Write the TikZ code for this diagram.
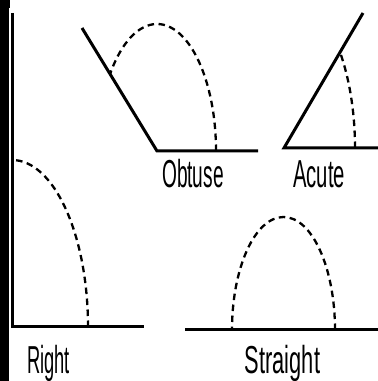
\documentclass[tikz,border=0pt]{standalone}
\usepackage{fontspec}
\setmainfont{Liberation Sans}
\newcommand{\lblsq}[2]{\scalebox{#1}[1]{#2}}
\begin{document}
\begin{tikzpicture}[x=1pt,y=1pt,
  armline/.style={line width=3pt},
  arcline/.style={line width=2.3pt,dash pattern=on 6.5pt off 4.5pt},
  lbl/.style={inner sep=0pt,anchor=base,font=\fontsize{39}{39}\selectfont}]
\useasboundingbox (0,0) rectangle (378,381);
\fill[white] (0,0) rectangle (378,381);
\fill[black] (0,0) rectangle (9,381);
\fill[black] (0,373) rectangle (10,381);
% Right
\coordinate (rv) at (12,54);
\coordinate (rt) at (12,368);
\coordinate (rb) at (144,54);
\draw[armline] (rt) -- (rv) -- (rb);
\draw[arcline] (88,54) arc[start angle=0,end angle=90,x radius=76,y radius=167];
% Straight
\coordinate (sl) at (185,51);
\coordinate (sr) at (378,51);
\draw[armline] (sl) -- (sr);
\draw[arcline] (335,51) arc[start angle=0,end angle=180,x radius=51.5,y radius=113];
% Obtuse
\coordinate (ov) at (157,230);
\coordinate (oa) at (82,353);
\coordinate (ob) at (258,230);
\draw[armline] (oa) -- (ov) -- (ob);
\draw[arcline] (216,230) arc[start angle=0,end angle=142.7,x radius=59,y radius=127];
% Acute
\coordinate (av) at (284,233);
\coordinate (aa) at (363,368);
\coordinate (ab) at (378,233);
\draw[armline] (aa) -- (av) -- (ab);
\draw[arcline] (355,233) arc[start angle=0,end angle=37.9,x radius=71,y radius=156];
% labels
\node[lbl] (lo) at (193,193) {\lblsq{0.49}{Obtuse}};
\node[lbl] (la) at (319,193) {\lblsq{0.52}{Acute}};
\node[lbl] (lr) at (48.5,8) {\lblsq{0.47}{Right}};
\node[lbl] (ls) at (282.5,8) {\lblsq{0.56}{Straight}};
\end{tikzpicture}
\end{document}
